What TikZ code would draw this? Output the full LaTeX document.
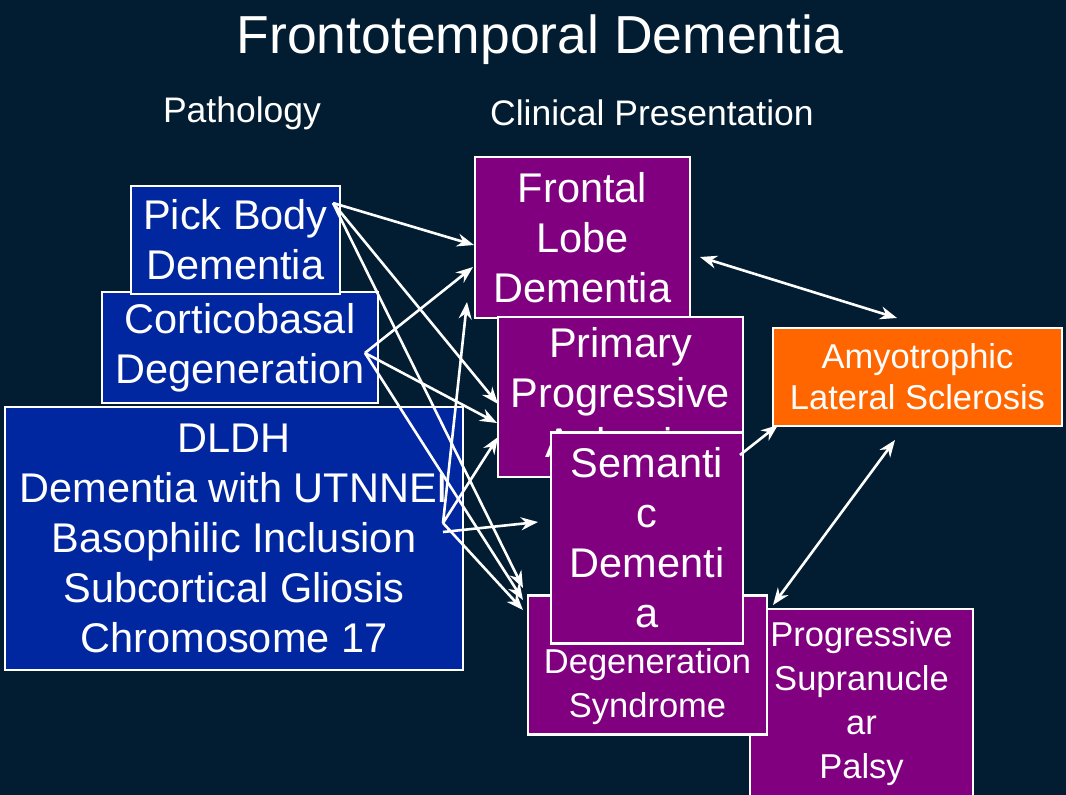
\documentclass[tikz,border=0pt]{standalone}
\usepackage{fontspec}
\setmainfont{Liberation Sans}
\usetikzlibrary{arrows.meta}
\definecolor{bg}{HTML}{021D31}
\definecolor{pblue}{HTML}{0026A0}
\definecolor{ppurple}{HTML}{800080}
\definecolor{porange}{HTML}{FF6600}
\begin{document}
\begin{tikzpicture}[x=1pt,y=-1pt,
  box/.style={draw=white,line width=2.5pt,text=white,align=center,inner sep=0pt},
  big/.style={font=\fontsize{41.5}{50}\selectfont},
  mid/.style={font=\fontsize{34.5}{44}\selectfont},
  arr/.style={draw=white,line width=2.6pt,-{Stealth[length=17pt,width=13pt]}},
  darr/.style={arr,{Stealth[length=17pt,width=13pt]}-{Stealth[length=17pt,width=13pt]}}]
\fill[bg] (0,0) rectangle (1066,795);
\useasboundingbox (0,0) rectangle (1066,795);
\node[text=white,font=\fontsize{53.5}{60}\selectfont] (title) at (540,40) {Frontotemporal Dementia};
\node[text=white,font=\fontsize{35.5}{40}\selectfont] (path) at (242,113) {Pathology};
\node[text=white,font=\fontsize{35.5}{40}\selectfont] (clin) at (652,113) {Clinical Presentation};
% pathology boxes
\node[box,big,fill=pblue,minimum width=458pt,minimum height=263pt] (dldh) at (234,538.5) {DLDH\\Dementia with UTNNEI\\Basophilic Inclusion\\Subcortical Gliosis\\Chromosome 17};
\node[box,big,fill=pblue,minimum width=276pt,minimum height=111pt] (cbd) at (240,347.5) {Corticobasal\\Degeneration};
\node[box,big,fill=pblue,minimum width=209pt,minimum height=108pt] (pick) at (235.5,240) {Pick Body\\Dementia};
% clinical boxes
\node[box,big,fill=ppurple,minimum width=215pt,minimum height=161pt] (fld) at (582.5,237.5) {Frontal\\Lobe\\Dementia};
\node[box,big,fill=ppurple,minimum width=245pt,minimum height=160pt] (ppa) at (620.5,397) {Primary\\Progressive\\Aphasia};
\node[box,mid,fill=ppurple,minimum width=223pt,minimum height=190pt] (psp) at (861.5,704) {Progressive\\Supranucle\\ar\\Palsy};
\node[box,mid,fill=ppurple,minimum width=239pt,minimum height=139pt] (cbds) at (647.5,665) {Corticobasal\\Degeneration\\Syndrome};
\node[box,big,fill=ppurple,minimum width=192pt,minimum height=211pt] (sd) at (647,538) {Semanti\\c\\Dementi\\a};
\node[box,fill=porange,text=white,font=\fontsize{34.5}{41}\selectfont,minimum width=289pt,minimum height=98pt] (als) at (917.5,377) {Amyotrophic\\Lateral Sclerosis};
% connector points
\coordinate (pS) at (333,203);
\coordinate (cS) at (365,353);
\coordinate (dS) at (443,523);
\coordinate (dS2) at (443,532);
\coordinate (f1) at (474,245);
\coordinate (f2) at (473,267);
\coordinate (f3) at (467,302);
\coordinate (p1) at (498,404);
\coordinate (p2) at (497,423);
\coordinate (p3) at (498,437);
\coordinate (s1) at (538,522);
\coordinate (c1) at (523,588);
\coordinate (c2) at (523,600);
\coordinate (c3) at (523,610);
\draw[arr] (pS) -- (f1);
\draw[arr] (pS) -- (p1);
\draw[arr] (pS) -- (c1);
\draw[arr] (cS) -- (f2);
\draw[arr] (cS) -- (p2);
\draw[arr] (cS) -- (c2);
\draw[arr] (dS) -- (f3);
\draw[arr] (dS) -- (p3);
\draw[arr] (dS) -- (c3);
\draw[arr] (dS2) -- (s1);
% right side
\coordinate (fr) at (700,257);
\coordinate (at) at (897,318);
\coordinate (sr) at (740,455);
\coordinate (al) at (778,425);
\coordinate (ab) at (895,440);
\coordinate (pt) at (773,605);
\draw[darr] (fr) -- (at);
\draw[arr] (sr) -- (al);
\draw[darr] (ab) -- (pt);
\end{tikzpicture}
\end{document}
